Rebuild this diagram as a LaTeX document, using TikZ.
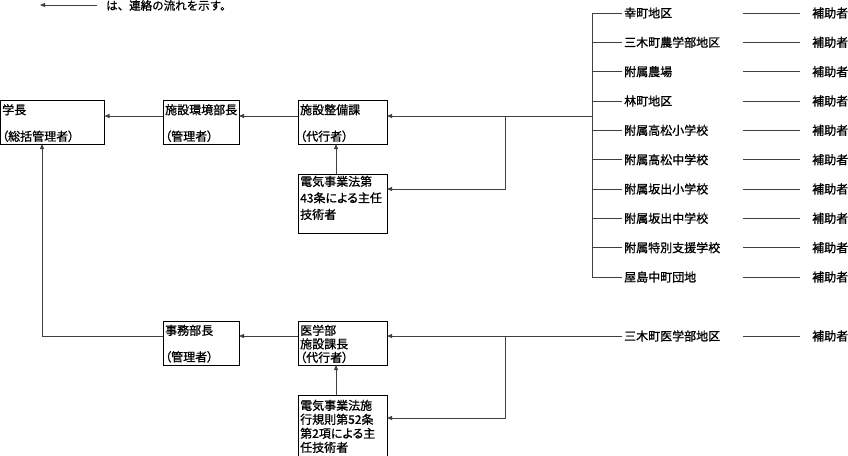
\documentclass[tikz,border=0pt]{standalone}
\usepackage{fontspec}
\setmainfont{Noto Sans CJK JP}[RawFeature={+palt}, FakeBold=1]
\newfontfamily\legendfont{Noto Sans CJK JP}[FakeBold=1]
\usetikzlibrary{arrows.meta}
\begin{document}
\begin{tikzpicture}[x=1pt,y=-1pt,
  box/.style={draw=black, line width=0.8pt, anchor=north west, inner sep=0pt, outer sep=0pt},
  txt/.style={anchor=north west, inner sep=0pt, align=left, font=\fontsize{12}{14}\selectfont},
  lbl/.style={anchor=west, inner sep=2pt, font=\fontsize{12}{14}\selectfont},
  con/.style={draw=black!75, line width=0.9pt},
  arr/.style={con, -{Triangle[length=5pt,width=4pt]}}]
\useasboundingbox (0,0) rectangle (848,455);

% legend
\coordinate (lg1) at (97,5);
\coordinate (lg0) at (40,5);
\draw[arr] (lg1) -- (lg0);
\node[anchor=west, inner sep=0pt, font=\legendfont\fontsize{11.5}{13}\selectfont] (lgt) at (106,5.5) {は、連絡の流れを示す。};

% boxes
\node[box, minimum width=104, minimum height=44] (b1) at (0.5,100) {};
\node[box, minimum width=76, minimum height=44] (b2) at (163,100) {};
\node[box, minimum width=89, minimum height=44] (b3) at (298,100) {};
\node[box, minimum width=89, minimum height=59] (e1) at (298,174) {};
\node[box, minimum width=76, minimum height=44] (b5) at (163,321) {};
\node[box, minimum width=89, minimum height=44] (b6) at (298,321) {};
\node[box, minimum width=89, minimum height=65] (e2) at (298,395) {};

% box texts
\node[txt] (t1) at (2,104) {学長\\[12.5pt]（総括管理者）};
\node[txt] (t2) at (165,104) {施設環境部長\\[12.5pt]（管理者）};
\node[txt] (t3) at (300,104) {施設整備課\\[12.5pt]（代行者）};
\node[txt, font=\fontsize{12}{16.5}\selectfont] (t4) at (300,175.6) {電気事業法第\\43条による主任\\技術者};
\node[txt] (t5) at (165,324.6) {事務部長\\[12.5pt]（管理者）};
\node[txt, font=\fontsize{12}{13.5}\selectfont] (t6) at (300,324.6) {医学部\\施設課長\\（代行者）};
\node[txt] (t7) at (300,399.6) {電気事業法施\\行規則第52条\\第2項による主\\任技術者};

% upper arrows
\draw[arr] (b2.west |- 0,116) -- (b1.east |- 0,116);
\draw[arr] (b3.west |- 0,116) -- (b2.east |- 0,116);
\draw[arr] (e1.north -| 336,0) -- (b3.south -| 336,0);

% lower arrows
\draw[arr] (b6.west |- 0,336) -- (b5.east |- 0,336);
\draw[arr] (e2.north -| 336,0) -- (b6.south -| 336,0);
\draw[arr] (b5.west |- 0,336) -| (b1.south -| 42,0);

% right list
\coordinate (vt) at (592,13);
\coordinate (vb) at (592,277);
\coordinate (j1) at (592,116);
\coordinate (k1) at (505,116);
\draw[con] (vt) -- (vb);
\draw[arr] (j1) -- (b3.east |- j1);
\draw[arr] (k1) |- (e1.east |- 0,189);

\foreach \i/\y/\name in {1/13/幸町地区, 2/42.3/三木町農学部地区, 3/71.7/附属農場, 4/101/林町地区, 5/130.3/附属高松小学校, 6/159.7/附属高松中学校, 7/189/附属坂出小学校, 8/218.3/附属坂出中学校, 9/247.7/附属特別支援学校, 10/277/屋島中町団地}{
  \node[lbl] (r\i) at (622,\y) {\name};
  \node[lbl] (a\i) at (810,\y) {補助者};
  \draw[con] (vt |- r\i.west) -- (r\i.west);
  \draw[con] ([xshift=-67pt]a\i.west) -- ([xshift=-10pt]a\i.west);
}

% bottom
\node[lbl] (m1) at (622,336) {三木町医学部地区};
\node[lbl] (m2) at (810,336) {補助者};
\draw[con] ([xshift=-67pt]m2.west) -- ([xshift=-10pt]m2.west);
\coordinate (k2) at (505,336);
\draw[arr] (m1.west) -- (b6.east |- m1.west);
\draw[arr] (k2) |- (e2.east |- 0,418);
\end{tikzpicture}
\end{document}
